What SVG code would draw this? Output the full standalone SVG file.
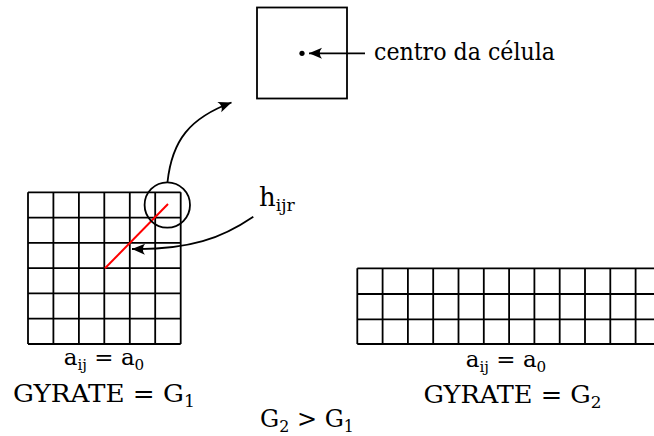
<svg xmlns="http://www.w3.org/2000/svg" width="654" height="436" viewBox="0 0 654 436">
<style>
  .ln { fill: none; stroke: #000; stroke-width: 1.8; }
  .grid { fill: none; stroke: #000; stroke-width: 1.8; }
  text { font-family: 'DejaVu Serif', 'Liberation Serif', serif; fill: #000; }
  .sub { font-size: 0.66em; }
</style>
<defs>
  <marker id="ah" viewBox="-14 -6 16 12" refX="0" refY="0" markerWidth="16" markerHeight="12" markerUnits="userSpaceOnUse" orient="auto">
    <path d="M0,0 L-13,-5.5 Q-8.5,0 -13,5.5 Z" fill="#000"/>
  </marker>
</defs>
<rect width="654" height="436" fill="#fff"/>

<g id="cell-box">
  <rect x="257" y="7.5" width="90" height="91" class="ln"/>
  <circle cx="302" cy="53.3" r="2.6" fill="#000"/>
</g>

<g id="cell-label">
  <text x="374" y="59.5" font-size="24" textLength="181" lengthAdjust="spacingAndGlyphs">centro da célula</text>
</g>

<g id="grid-left">
  <path class="grid" d="M28,192.3 V344 M53.4,192.3 V344 M78.9,192.3 V344 M104.3,192.3 V344 M129.8,192.3 V344 M155.2,192.3 V344 M180.7,192.3 V344
    M28,192.3 H180.7 M28,217.6 H180.7 M28,242.9 H180.7 M28,268.2 H180.7 M28,293.4 H180.7 M28,318.7 H180.7 M28,344 H180.7"/>
  <line x1="168" y1="204" x2="105" y2="268.3" stroke="#ff0000" stroke-width="2"/>
  <circle cx="167.3" cy="205" r="22.7" class="ln"/>
</g>

<g id="grid-right">
  <path class="grid" d="M357.3,268.3 V344 M382.6,268.3 V344 M407.9,268.3 V344 M433.2,268.3 V344 M458.5,268.3 V344 M483.8,268.3 V344 M509.1,268.3 V344 M534.4,268.3 V344 M559.7,268.3 V344 M585,268.3 V344 M610.3,268.3 V344 M635.6,268.3 V344 M660.9,268.3 V344
    M357.3,268.3 H660.9 M357.3,294 H660.9 M357.3,319.3 H660.9 M357.3,344 H660.9"/>
</g>

<g id="h-label">
  <text x="259" y="206" font-size="26">h<tspan class="sub" dy="5">ijr</tspan></text>
</g>

<g id="left-labels">
  <text x="104" y="365" font-size="23" text-anchor="middle">a<tspan class="sub" dy="5">ij</tspan><tspan dy="-5"> = a</tspan><tspan class="sub" dy="5">0</tspan></text>
  <text x="104" y="402" font-size="25" text-anchor="middle" textLength="182" lengthAdjust="spacingAndGlyphs">GYRATE = G<tspan class="sub" dy="5">1</tspan></text>
</g>

<g id="right-labels">
  <text x="506" y="367" font-size="23" text-anchor="middle">a<tspan class="sub" dy="5">ij</tspan><tspan dy="-5"> = a</tspan><tspan class="sub" dy="5">0</tspan></text>
  <text x="512.5" y="403" font-size="25" text-anchor="middle" textLength="178" lengthAdjust="spacingAndGlyphs">GYRATE = G<tspan class="sub" dy="5">2</tspan></text>
</g>

<g id="compare-label">
  <text x="307" y="426.5" font-size="24" text-anchor="middle">G<tspan class="sub" dy="5">2</tspan><tspan dy="-5"> &gt; G</tspan><tspan class="sub" dy="5">1</tspan></text>
</g>

<g id="connectors">
  <line x1="365" y1="53.3" x2="309" y2="53.3" class="ln" marker-end="url(#ah)"/>
  <path d="M167.5,182 C172,140 190,118 231.5,102.5" class="ln" marker-end="url(#ah)"/>
  <path d="M253.3,216.7 C222,238 190,250 132,249" class="ln" marker-end="url(#ah)"/>
</g>
</svg>
